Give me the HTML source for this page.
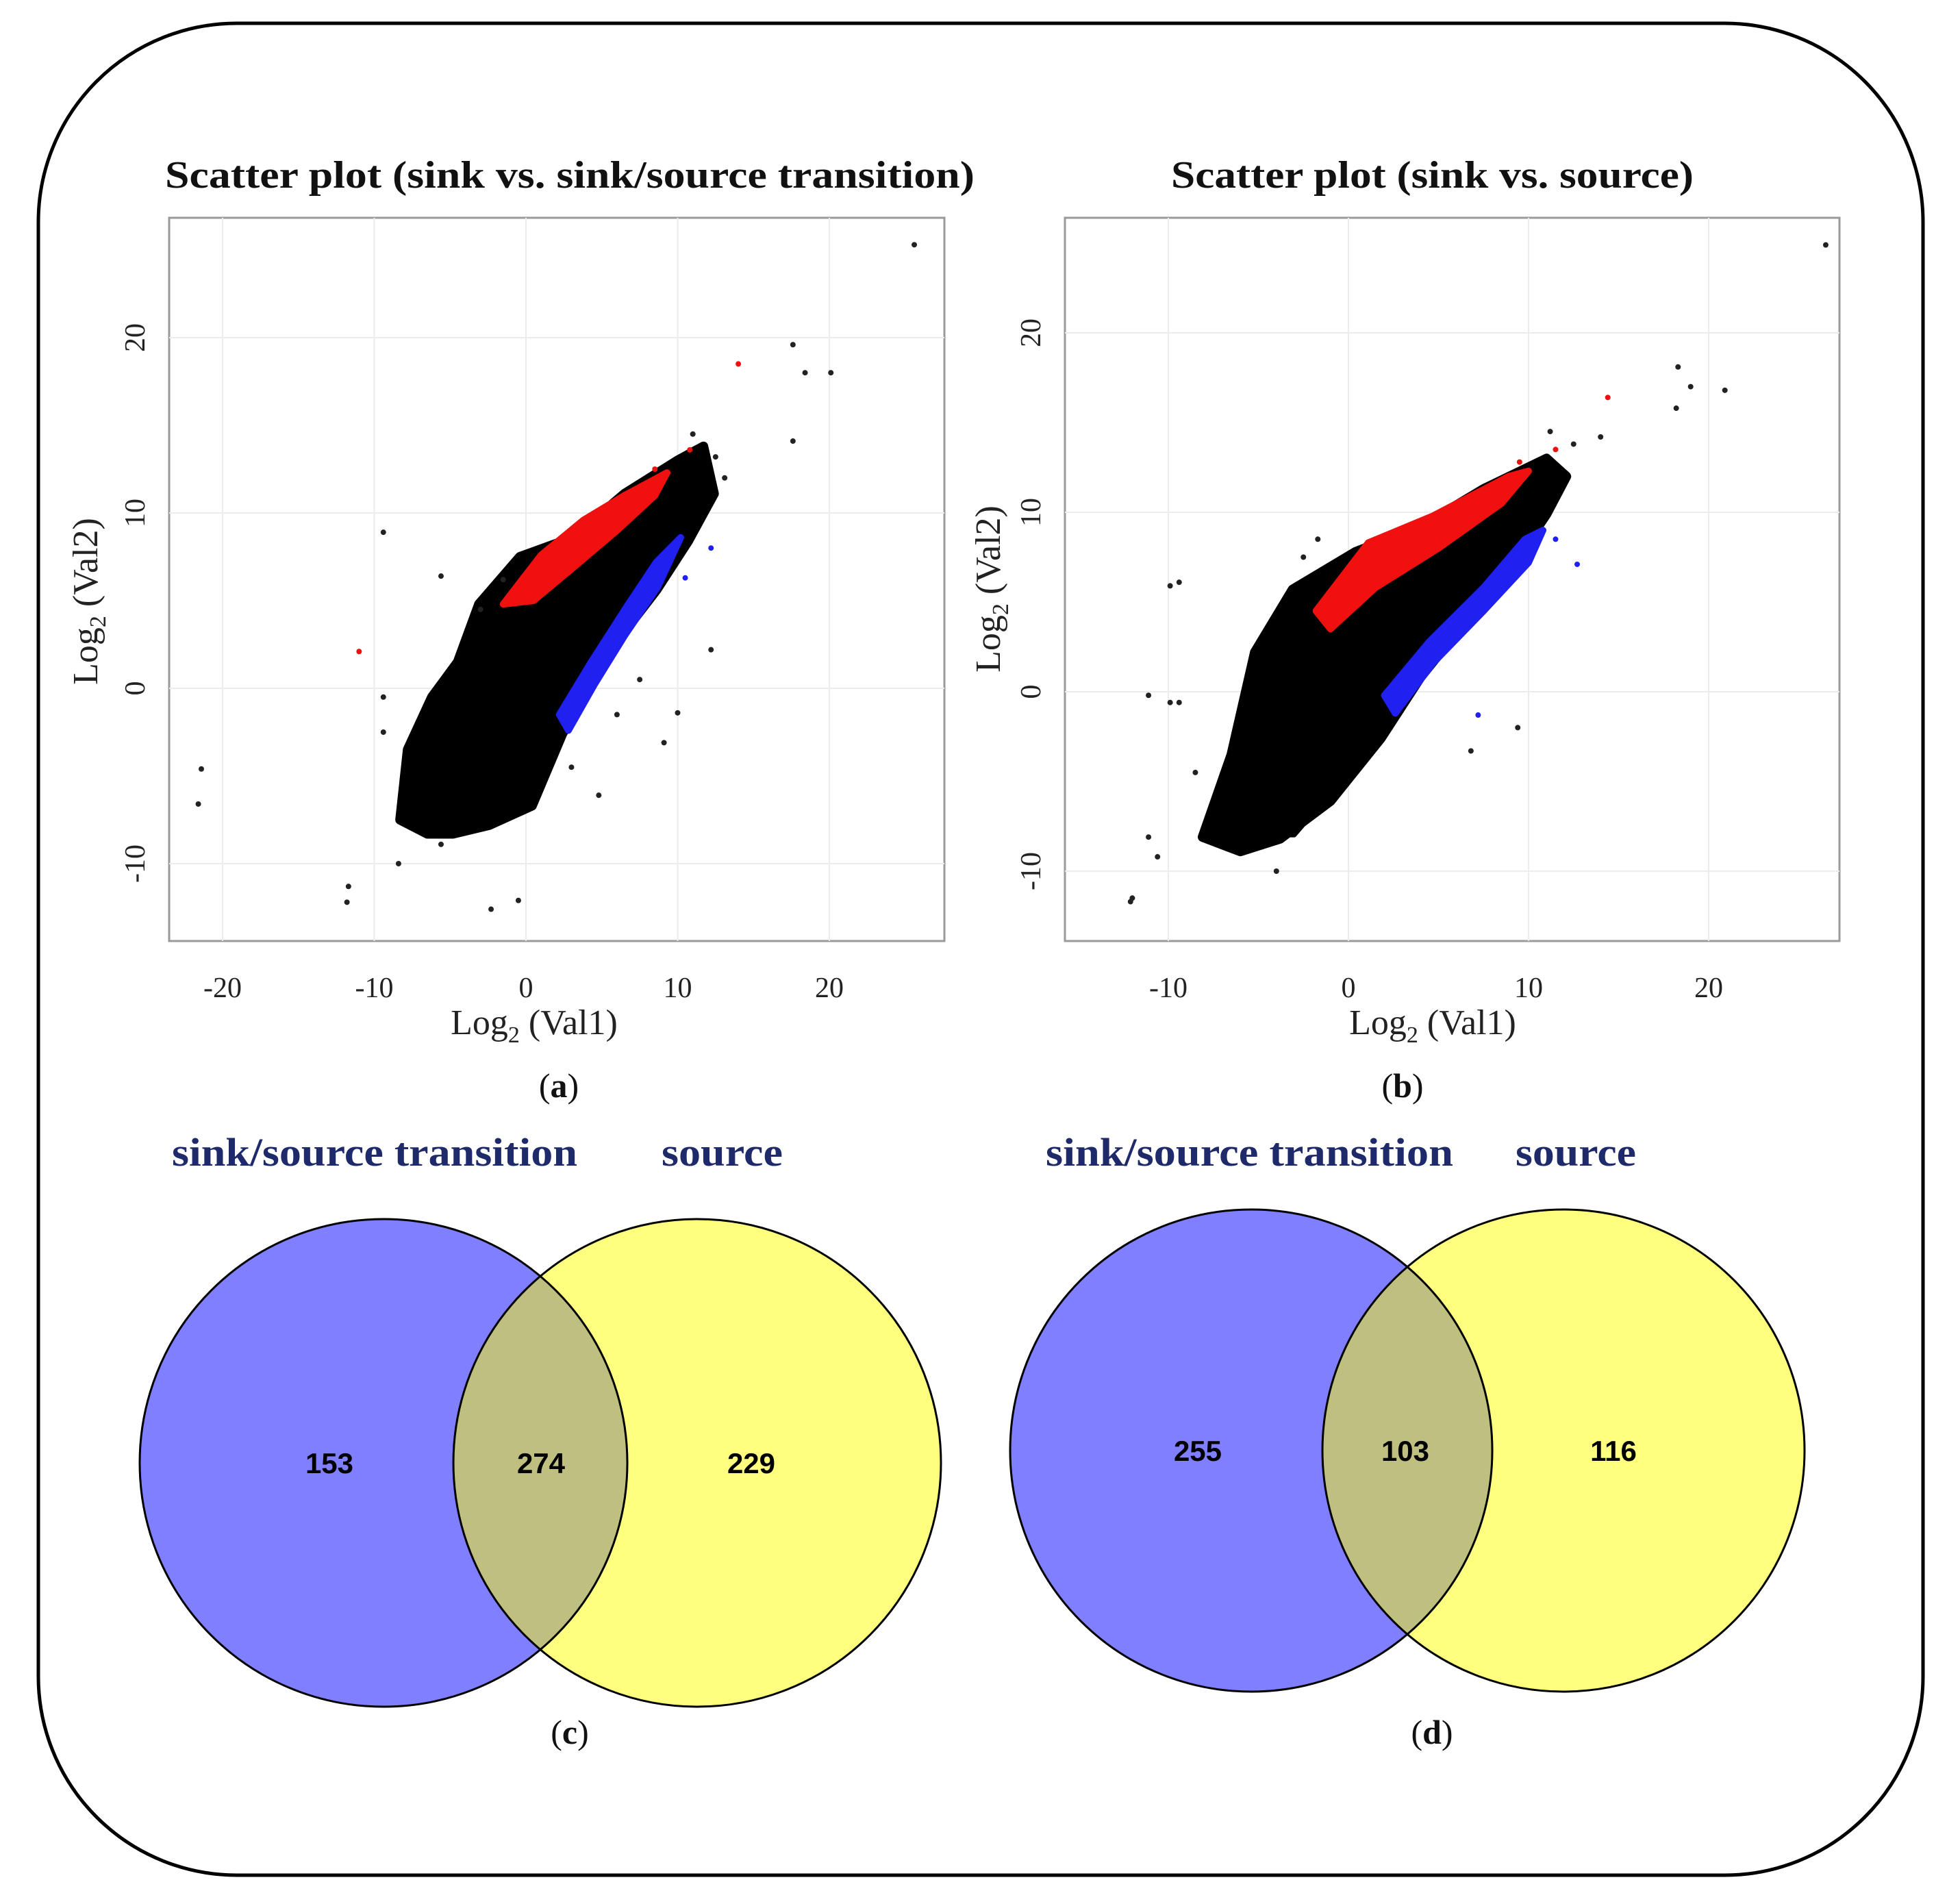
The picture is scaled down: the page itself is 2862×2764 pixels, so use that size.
<!DOCTYPE html>
<html><head><meta charset="utf-8"><style>
html,body{margin:0;padding:0;background:#fff}
svg{display:block}
</style></head><body>
<svg id="fig" width="2862" height="2764" viewBox="0 0 2862 2764" xmlns="http://www.w3.org/2000/svg">
<rect x="56" y="34" width="2752" height="2704" rx="290" ry="290" fill="#fff" stroke="#000" stroke-width="5"/>
<g id="plots"></g>
<g id="venns"></g>
</svg>
<script>
// ---------- data ----------
const xTicks=[-20,-10,0,10,20];
const yTicks=[-10,0,10,20];
// plot a cloud outline (data coords)
const cloudA=[[-8.3,-7.5],[-7.8,-3.5],[-6.2,-0.5],[-4.5,1.5],[-3.1,4.8],[-0.4,7.5],[3.1,8.6],[6.5,11.1],[10,13],[11.7,13.8],[12.4,11.1],[10.7,8.4],[8.6,5.6],[6.2,2.9],[4.2,0.1],[2.4,-2.6],[0.4,-6.7],[-2.4,-7.8],[-4.8,-8.3],[-6.5,-8.3]];
const coreA=[[-7,-7],[-5.5,-2],[-2.5,2.5],[0.5,5.5],[3.5,7.5],[7,9.8],[10.8,11.5],[11,9.5],[8.8,6.8],[6.2,3.6],[3.5,-0.5],[1,-5],[-2,-7.5]];
const redA=[[-1.5,4.8],[1,7.6],[3.8,9.6],[6.5,11],[9.3,12.3],[8.5,11],[6,9],[3,6.8],[0.5,5]];
const blueA=[[10.2,8.6],[8.7,5.8],[6.5,3],[4.5,0.2],[2.8,-2.4],[2.2,-1.5],[4.3,1.5],[6.6,4.6],[8.6,7.2]];
const outA=[[25.6,25.3],[17.6,19.6],[18.4,18.0],[20.1,18.0],[17.6,14.1],[-9.4,8.9],[-5.6,6.4],[-9.4,-0.5],[-9.4,-2.5],[-21.4,-4.6],[-21.6,-6.6],[-11.7,-11.3],[-11.8,-12.2],[-8.4,-10],[-5.6,-8.9],[-2.3,-12.6],[-0.5,-12.1],[10,-1.4],[9.1,-3.1],[12.2,2.2],[4.8,-6.1],[12.5,13.2],[13.1,12.0],[11,14.5],[-1.5,6.2],[-3,4.5],[3,-4.5],[6,-1.5],[7.5,0.5]];
const outAred=[[14.0,18.5],[-11,2.1],[8.5,12.5],[10.8,13.6]];
const outAblue=[[12.2,8.0],[10.5,6.3]];
// plot b
const cloudB=[[-8.1,-8.1],[-6.5,-3.5],[-5.2,2.2],[-3.1,5.7],[0.4,7.8],[4,9.2],[7.5,11.3],[11,13],[12.1,12],[11,9.9],[9.6,7.8],[6.8,4.3],[4,0.8],[1.8,-2.6],[-1,-6.1],[-3.8,-8.2],[-6,-8.9]];
const coreB=[[-7,-8],[-5.5,-3],[-3,1.5],[0,5],[4,7.5],[8,9.8],[10.8,11],[10.5,8.5],[8,6],[5,2.5],[2.5,-1],[0,-4.5],[-3,-8]];
const redB=[[-1.8,4.5],[1.1,8.3],[4.7,9.8],[8.9,12],[10,12.3],[8.5,10.5],[5,8],[1.5,5.8],[-1,3.5]];
const blueB=[[10.8,9],[10,7.2],[7.5,4.5],[4.7,1.6],[2.6,-1.2],[2,-0.2],[4.5,2.8],[7.5,5.8],[9.8,8.5]];
const outB=[[26.5,24.9],[18.3,18.1],[19,17],[20.9,16.8],[18.2,15.8],[-9.4,6.1],[-9.9,5.9],[-11.1,-0.2],[-9.9,-0.6],[-9.4,-0.6],[-11.1,-8.1],[-12,-11.5],[-12.1,-11.7],[-10.6,-9.2],[-1.7,8.5],[9.4,-2],[6.8,-3.3],[12.5,13.8],[14,14.2],[11.2,14.5],[-2.5,7.5],[-8.5,-4.5],[-4,-10]];
const outBred=[[14.4,16.4],[9.5,12.8],[11.5,13.5]];
const outBblue=[[12.7,7.1],[7.2,-1.3],[11.5,8.5]];
// venn counts
const vennC=[153,274,229];
const vennD=[255,103,116];

const NS="http://www.w3.org/2000/svg";
function mk(tag,attrs,parent){const e=document.createElementNS(NS,tag);for(const k in attrs)e.setAttribute(k,attrs[k]);parent.appendChild(e);return e;}

function drawPlot(cfg){
  const g=mk('g',{},document.getElementById('plots'));
  
  
  const sx=v=>cfg.x0+v*cfg.kx, sy=v=>cfg.y0-v*cfg.ky;
  const bg=mk('rect',{x:cfg.L,y:cfg.T,width:cfg.R-cfg.L,height:cfg.B-cfg.T,fill:'#fff',stroke:'#9a9a9a','stroke-width':3},g);
  
  
  xTicks.forEach(t=>{const x=sx(t);if(x<cfg.L||x>cfg.R)return;
    const l=mk('line',{x1:x,x2:x,y1:cfg.T,y2:cfg.B,stroke:'#ececec','stroke-width':2},g);
    
    
    const tx=mk('text',{x:x,y:cfg.B+82,'text-anchor':'middle','font-size':42,'font-family':'Liberation Serif, serif',fill:'#222'},g);
    tx.textContent=t;
    
    
  });
  yTicks.forEach(t=>{const y=sy(t);
    const l=mk('line',{x1:cfg.L,x2:cfg.R,y1:y,y2:y,stroke:'#ececec','stroke-width':2},g);
    
    
    const tx=mk('text',{x:0,y:0,'text-anchor':'middle','font-size':42,'font-family':'Liberation Serif, serif',fill:'#222',transform:`translate(${cfg.L-36},${y}) rotate(-90)`},g);
    tx.textContent=t;
    
    
  });
  const poly=(pts,fill,nm,sw)=>{const p=mk('polygon',{points:pts.map(p=>sx(p[0])+','+sy(p[1])).join(' '),fill:fill,stroke:fill,'stroke-width':sw,'stroke-linejoin':'round'},g);
    
    };
  poly(cfg.cloud,'#000','point-cloud',14);
  poly(cfg.core,'#000','point-cloud-core',6);
  poly(cfg.red,'#f01010','up-regulated-points',10);
  poly(cfg.blue,'#2020f0','down-regulated-points',10);
  const pts=(arr,col,nm)=>arr.forEach(p=>{const c=mk('circle',{cx:sx(p[0]),cy:sy(p[1]),r:4,fill:col},g);
    
    });
  pts(cfg.out,'#222','outlier-point');pts(cfg.outR,'#f01010','red-point');pts(cfg.outBl,'#2020f0','blue-point');
  const t=mk('text',{x:cfg.tx,y:274,'font-size':56,'font-weight':'bold','font-family':'Liberation Serif, serif',textLength:cfg.tw,lengthAdjust:'spacingAndGlyphs',fill:'#111'},g);
  t.textContent=cfg.title;
  
  
  const xt=mk('text',{x:cfg.xtx,y:1510,'text-anchor':'middle','font-size':52,'font-family':'Liberation Serif, serif',fill:'#222'},g);
  xt.innerHTML='Log<tspan font-size="34" dy="12">2</tspan><tspan dy="-12"> (Val1)</tspan>';
  
  
  const yt=mk('text',{x:0,y:0,'text-anchor':'middle','font-size':52,'font-family':'Liberation Serif, serif',fill:'#222',transform:`translate(${cfg.ytx},${cfg.yty}) rotate(-90)`},g);
  yt.innerHTML='Log<tspan font-size="34" dy="12">2</tspan><tspan dy="-12"> (Val2)</tspan>';
  
  
  const pl=mk('text',{x:cfg.plx,y:1602,'text-anchor':'middle','font-size':50,'font-family':'Liberation Serif, serif',fill:'#111'},g);
  pl.innerHTML='(<tspan font-weight="bold">'+cfg.panel+'</tspan>)';
  
  
}
drawPlot({name:'scatter-plot-a',L:247,R:1379,T:318,B:1374,x0:768,kx:22.15,y0:1005,ky:25.6,cloud:cloudA,red:redA,blue:blueA,core:coreA,out:outA,outR:outAred,outBl:outAblue,
  title:'Scatter plot (sink vs. sink/source transition)',tx:241,tw:1182,xtx:780,ytx:142,yty:878,plx:816,panel:'a'});
drawPlot({name:'scatter-plot-b',L:1555,R:2686,T:318,B:1374,x0:1969,kx:26.3,y0:1010,ky:26.2,cloud:cloudB,red:redB,blue:blueB,core:coreB,out:outB,outR:outBred,outBl:outBblue,
  title:'Scatter plot (sink vs. source)',tx:1710,tw:763,xtx:2092,ytx:1460,yty:860,plx:2048,panel:'b'});

function drawVenn(cfg){
  const g=mk('g',{},document.getElementById('venns'));
  
  
  const a=mk('circle',{cx:cfg.c1,cy:cfg.cy,r:cfg.r,fill:'#0000ff','fill-opacity':0.5},g);
  
  
  const b=mk('circle',{cx:cfg.c2,cy:cfg.cy,r:cfg.r,fill:'#ffff00','fill-opacity':0.5},g);
  
  
  [cfg.c1,cfg.c2].forEach(cx=>{const o=mk('circle',{cx:cx,cy:cfg.cy,r:cfg.r,fill:'none',stroke:'#000','stroke-width':3},g);
    
    });
  const xs=[cfg.n1,cfg.n2,cfg.n3];
  cfg.vals.forEach((v,i)=>{const t=mk('text',{x:xs[i],y:cfg.cy+15,'text-anchor':'middle','font-size':42,'font-weight':'bold','font-family':'Liberation Sans, sans-serif',fill:'#000'},g);
    t.textContent=v;
    
    });
  const l1=mk('text',{x:cfg.l1x,y:1702,'font-size':58,'font-weight':'bold','font-family':'Liberation Serif, serif',fill:'#1f2a6b',textLength:cfg.l1w,lengthAdjust:'spacingAndGlyphs'},g);
  l1.textContent='sink/source transition';
  
  
  const l2=mk('text',{x:cfg.l2x,y:1702,'font-size':58,'font-weight':'bold','font-family':'Liberation Serif, serif',fill:'#1f2a6b',textLength:cfg.l2w,lengthAdjust:'spacingAndGlyphs'},g);
  l2.textContent='source';
  
  
  const pl=mk('text',{x:cfg.plx,y:2546,'text-anchor':'middle','font-size':50,'font-family':'Liberation Serif, serif',fill:'#111'},g);
  pl.innerHTML='(<tspan font-weight="bold">'+cfg.panel+'</tspan>)';
  
  
}
drawVenn({name:'venn-c',c1:560,c2:1018,cy:2136,r:356,vals:vennC,n1:481,n2:790,n3:1097,l1x:251,l1w:592,l2x:966,l2w:177,plx:832,panel:'c'});
drawVenn({name:'venn-d',c1:1827,c2:2283,cy:2118,r:352,vals:vennD,n1:1749,n2:2052,n3:2356,l1x:1527,l1w:595,l2x:2213,l2w:176,plx:2091,panel:'d'});
</script>
</body></html>
